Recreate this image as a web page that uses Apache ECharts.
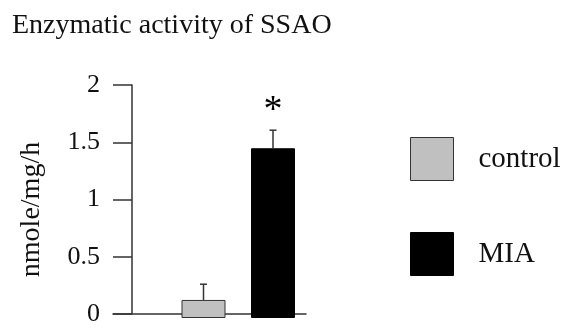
<!DOCTYPE html>
<html>
<head>
<meta charset="utf-8">
<script src="https://cdn.jsdelivr.net/npm/echarts@6/dist/echarts.min.js"></script>
<style>
html,body{margin:0;padding:0;background:#fff;}
#chart{width:566px;height:327px;}
</style>
</head>
<body>
<div id="chart"></div>
<script>
var titleText = 'Enzymatic activity of SSAO';
var yAxisName = 'nmole/mg/h';
var categories = ['', 'control', 'MIA'];
var groups = ['control', 'MIA'];
var means = [0.155, 1.457];
var errors = [0.135, 0.155];
var significant = [false, true];
var yTicks = [0, 0.5, 1, 1.5, 2];

var FONT = 'Liberation Serif';
var chart = echarts.init(document.getElementById('chart'));

function seriesData(i) {
  return categories.map(function (c) { return c === groups[i] ? means[i] : '-'; });
}
var errData = groups.map(function (g, i) { return [g, means[i], errors[i], significant[i] ? 1 : 0]; });

var option = {
  animation: false,
  backgroundColor: '#fff',
  title: {
    text: titleText, left: 7, top: 7,
    textStyle: { fontFamily: FONT, fontWeight: 'normal', fontSize: 28, color: '#111' }
  },
  legend: {
    orient: 'vertical', left: 410, top: 137, padding: 0,
    itemWidth: 43, itemHeight: 43, itemGap: 51,
    icon: 'rect',
    textStyle: { fontFamily: FONT, fontSize: 29, color: '#111', padding: [0, 0, 0, 20] },
    data: [
      { name: 'control', itemStyle: { color: '#c0c0c0', borderColor: '#333', borderWidth: 1 } },
      { name: 'MIA', itemStyle: { color: '#000', borderColor: '#000', borderWidth: 1 } }
    ]
  },
  grid: [
    { left: 113, right: 260, top: 85, bottom: 9 },
    { left: 99.25, right: 258.25, top: 85, bottom: 9 }
  ],
  xAxis: [
    { type: 'value', gridIndex: 0, min: 0, max: 1,
      axisLine: { show: true, onZero: false, lineStyle: { color: '#333', width: 1.5 } },
      axisTick: { show: false }, axisLabel: { show: false }, splitLine: { show: false } },
    { type: 'category', gridIndex: 1, data: categories,
      axisLine: { show: false }, axisTick: { show: false }, axisLabel: { show: false } }
  ],
  yAxis: [
    { type: 'value', gridIndex: 0, min: 0, max: 2, interval: 0.5, offset: -19,
      name: yAxisName, nameLocation: 'middle', nameGap: 86, nameRotate: 90,
      nameTextStyle: { fontFamily: FONT, fontSize: 28, color: '#111', padding: [0, 20, 0, 0] },
      axisLine: { show: true, lineStyle: { color: '#333', width: 1.5 } },
      axisTick: { show: true, inside: false, length: 19, lineStyle: { color: '#333', width: 1.5 } },
      axisLabel: { margin: 32, fontFamily: FONT, fontSize: 26, color: '#111',
        formatter: function (v) { return String(v); } },
      splitLine: { show: false } },
    { type: 'value', gridIndex: 1, min: 0, max: 2, show: false }
  ],
  series: [
    { name: 'control', type: 'bar', xAxisIndex: 1, yAxisIndex: 1, stack: 'g',
      barWidth: 44, data: seriesData(0),
      itemStyle: { color: '#c0c0c0', borderColor: '#333', borderWidth: 1 } },
    { name: 'MIA', type: 'bar', xAxisIndex: 1, yAxisIndex: 1, stack: 'g',
      barWidth: 44, data: seriesData(1),
      itemStyle: { color: '#000', borderColor: '#000', borderWidth: 1 } },
    { type: 'custom', xAxisIndex: 1, yAxisIndex: 1, z: 10, data: errData,
      renderItem: function (params, api) {
        var x = api.coord([api.value(0), 0])[0];
        var yTop = api.coord([api.value(0), api.value(1) + api.value(2)])[1];
        var yBar = api.coord([api.value(0), api.value(1)])[1];
        var children = [
          { type: 'line', shape: { x1: x, y1: yBar, x2: x, y2: yTop }, style: { stroke: '#333', lineWidth: 1.5 } },
          { type: 'line', shape: { x1: x - 3.5, y1: yTop, x2: x + 3.5, y2: yTop }, style: { stroke: '#333', lineWidth: 1.5 } }
        ];
        if (api.value(3)) {
          children.push({ type: 'text', x: x, y: yTop,
            style: { text: '*', fontFamily: FONT, fontSize: 38, fill: '#000', align: 'center', verticalAlign: 'bottom' } });
        }
        return { type: 'group', children: children };
      }
    }
  ]
};
chart.setOption(option);
</script>
</body>
</html>
